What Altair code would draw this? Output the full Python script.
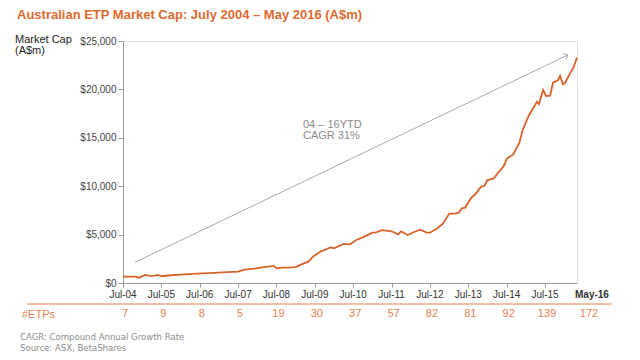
import altair as alt
import pandas as pd

# ---------------- data ----------------
# month offsets from Jul-2004 (0 = Jul-04, 142 = May-16) and market cap (A$m)
months_since_jul04 = [0, 4, 5, 7, 9, 11, 12, 15, 18, 23, 27, 31, 36, 38, 41, 44, 46, 47,
                      48, 50, 52, 54, 56, 58, 59.4, 62, 63, 65, 66, 69, 71, 73, 75, 78,
                      79, 81, 84, 86, 87, 89, 91, 93, 95, 96, 98, 100, 102, 104, 105,
                      106, 107, 109, 110, 112, 113, 114, 116, 118, 119, 120, 122, 124,
                      125, 127, 128, 129.5, 130.1, 131.4, 132.3, 133.6, 134.5, 136.1,
                      136.7, 137.6, 138.3, 139.8, 140.8, 142]
market_cap = [650, 650, 550, 830, 720, 830, 700, 800, 860, 960, 1030, 1100, 1170, 1380,
              1480, 1650, 1720, 1790, 1520, 1590, 1580, 1650, 1950, 2200, 2720, 3300,
              3400, 3690, 3580, 4030, 4000, 4440, 4720, 5200, 5200, 5470, 5340, 5030,
              5340, 4960, 5270, 5510, 5200, 5200, 5580, 6100, 7150, 7200, 7270, 7720,
              7790, 8850, 9090, 9950, 10020, 10640, 10810, 11670, 12020, 12830, 13260,
              14500, 15800, 17360, 17900, 18730, 18490, 19940, 19320, 19350, 20690,
              20970, 21420, 20530, 20700, 21660, 22180, 23300]

tick_months = [0, 12, 24, 36, 48, 60, 72, 84, 96, 108, 120, 132]
tick_labels = ["Jul-04", "Jul-05", "Jul-06", "Jul-07", "Jul-08", "Jul-09", "Jul-10",
               "Jul-11", "Jul-12", "Jul-13", "Jul-14", "Jul-15"]
end_month = 142
end_label = "May-16"
etp_counts = ["7", "9", "8", "5", "19", "30", "37", "57", "82", "81", "92", "139"]
etp_end = "172"

y_ticks = [0, 5000, 10000, 15000, 20000, 25000]

# ---------------- styling ----------------
ORANGE = "#D8632A"
ORANGE_T = "#E06A2E"
ORANGE_L = "#E5804E"
GRAY = "#9A9A9A"
FONT = "Liberation Sans"

W, H = 454, 242
xs = alt.Scale(domain=[0, 142], nice=False, zero=False)
ys = alt.Scale(domain=[0, 25000], nice=False)

x_axis = alt.Axis(values=tick_months, labels=False, title=None, grid=False, tickSize=4,
                  tickColor=GRAY, domainColor=GRAY, domainWidth=1)
y_axis = alt.Axis(values=y_ticks, format="$,.0f", title=None, grid=False, tickSize=5,
                  tickColor=GRAY, domainColor=GRAY, labelFontSize=10, labelColor="#444",
                  labelPadding=2, labelFont=FONT)

df = pd.DataFrame({"m": months_since_jul04, "v": market_cap})

line = alt.Chart(df).mark_line(color=ORANGE, strokeWidth=1.8).encode(
    x=alt.X("m:Q", scale=xs, axis=x_axis),
    y=alt.Y("v:Q", scale=ys, axis=y_axis),
)

# CAGR arrow (data coordinates)
arrow_df = pd.DataFrame({"x0": [3.75], "y0": [2140], "x1": [139.1], "y1": [23550]})
arrow = alt.Chart(arrow_df).mark_rule(color="#ABABAB", strokeWidth=1).encode(
    x=alt.X("x0:Q", scale=xs, axis=x_axis), y=alt.Y("y0:Q", scale=ys, axis=y_axis),
    x2="x1:Q", y2="y1:Q",
)
arrow_head = alt.Chart(arrow_df).mark_point(
    shape="M-1,-1L0,0L-1,1", filled=False, color="#ABABAB", strokeWidth=1,
    size=45, angle=334.4, opacity=1,
).encode(x=alt.X("x1:Q", scale=xs, axis=x_axis), y=alt.Y("y1:Q", scale=ys, axis=y_axis))

ann_df = pd.DataFrame({"m": [56.3, 56.3], "v": [16320, 15190],
                       "t": ["04 \u2013 16YTD", "CAGR 31%"]})
ann = alt.Chart(ann_df).mark_text(align="left", baseline="middle", fontSize=11,
                                  color="#8A8A8A", font=FONT).encode(
    x=alt.X("m:Q", scale=xs, axis=x_axis), y=alt.Y("v:Q", scale=ys, axis=y_axis), text="t:N")

# x tick labels
lab_df = pd.DataFrame({"m": tick_months, "t": tick_labels, "n": etp_counts})
xlabels = alt.Chart(lab_df).mark_text(baseline="middle", fontSize=10, color="#333",
                                      font=FONT).encode(
    x=alt.X("m:Q", scale=xs, axis=x_axis), y=alt.value(254), text="t:N")
end_df = pd.DataFrame({"m": [end_month], "t": [end_label], "n": [etp_end]})
xlabel_end = alt.Chart(end_df).mark_text(align="left", baseline="middle", fontSize=10,
                                         fontWeight="bold", color="#333", font=FONT,
                                         dx=-2).encode(
    x=alt.X("m:Q", scale=xs, axis=x_axis), y=alt.value(254), text="t:N")

# #ETPs row
etps = alt.Chart(lab_df).mark_text(baseline="middle", fontSize=11, color=ORANGE_L,
                                   font=FONT, dx=2).encode(
    x=alt.X("m:Q", scale=xs, axis=x_axis), y=alt.value(273), text="n:N")
etps_end = alt.Chart(end_df).mark_text(baseline="middle", fontSize=11, color=ORANGE_L,
                                       font=FONT, dx=12).encode(
    x=alt.X("m:Q", scale=xs, axis=x_axis), y=alt.value(273), text="n:N")

one = pd.DataFrame({"a": [0]})
sep = alt.Chart(one).mark_rule(color=ORANGE_L, strokeWidth=1.2).encode(
    x=alt.value(-96), x2=alt.value(489), y=alt.value(263))
etp_title = alt.Chart(one).mark_text(align="left", baseline="middle", fontSize=11,
                                     color=ORANGE_L, font=FONT, text="#ETPs").encode(
    x=alt.value(-101), y=alt.value(274))

title = alt.Chart(one).mark_text(align="left", baseline="middle", fontSize=13,
                                 fontWeight="bold", color=ORANGE_T, font=FONT,
                                 text="Australian ETP Market Cap: July 2004 \u2013 May 2016 (A$m)").encode(
    x=alt.value(-106), y=alt.value(-26.5))
ytitle = alt.Chart(one).mark_text(align="left", baseline="middle", fontSize=11,
                                  color="#222", font=FONT, lineHeight=11.5,
                                  text=["Market Cap", "(A$m)"]).encode(
    x=alt.value(-108), y=alt.value(-1.5))
footer = alt.Chart(one).mark_text(align="left", baseline="middle", fontSize=9.5,
                                  color="#8C8C8C", font="Liberation Sans Narrow, DejaVu Sans Condensed",
                                  lineHeight=11.5,
                                  text=["CAGR: Compound Annual Growth Rate",
                                        "Source: ASX, BetaShares"]).encode(
    x=alt.value(-103), y=alt.value(295.5))

chart = alt.layer(
    arrow, arrow_head, line, ann, xlabels, xlabel_end, etps, etps_end, sep, etp_title,
    title, ytitle, footer,
).properties(
    width=W, height=H,
    padding={"left": 115, "top": 33, "right": 55, "bottom": 69},
    autosize=alt.AutoSizeParams(type="none"),
).configure_view(stroke=None).configure(font=FONT)

chart.save("out.html", embed_options={"renderer": "svg", "actions": False})
